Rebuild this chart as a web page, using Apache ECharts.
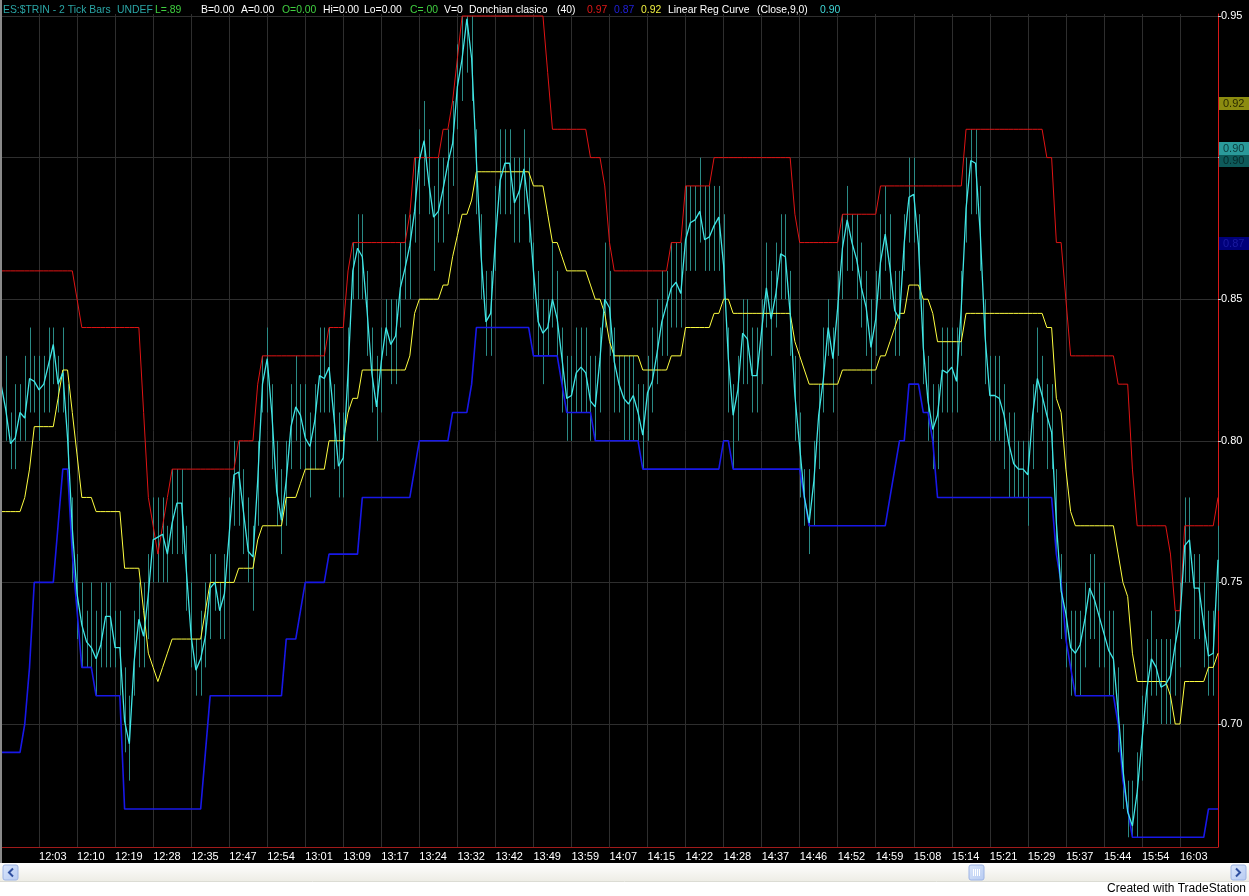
<!DOCTYPE html>
<html><head><meta charset="utf-8">
<script src="https://cdn.jsdelivr.net/npm/echarts@6/dist/echarts.min.js"></script>
<style>html,body{margin:0;padding:0;background:#fff;}#c{width:1249px;height:896px;}</style>
</head><body><div id="c"></div>
<script>
// ---- data ----
const timeLabels = ['12:03','12:10','12:19','12:28','12:35','12:47','12:54','13:01','13:09','13:17','13:24','13:32','13:42','13:49','13:59','14:07','14:15','14:22','14:28','14:37','14:46','14:52','14:59','15:08','15:14','15:21','15:29','15:37','15:44','15:54','16:03'];
const yTickValues = [0.70,0.75,0.80,0.85,0.90,0.95];

const donchianUpper = [
.86,.86,.86,.86,.86,.86,.86,.86,.86,.86,
.86,.86,.86,.86,.86,.86,.85,.84,.84,.84,
.84,.84,.84,.84,.84,.84,.84,.84,.84,.84,
.81,.78,.77,.76,.77,.78,.79,.79,.79,.79,
.79,.79,.79,.79,.79,.79,.79,.79,.79,.79,
.80,.80,.80,.80,.82,.83,.83,.83,.83,.83,
.83,.83,.83,.83,.83,.83,.83,.83,.83,.84,
.84,.84,.84,.86,.87,.87,.87,.87,.87,.87,
.87,.87,.87,.87,.87,.87,.88,.90,.90,.90,
.90,.90,.90,.91,.91,.92,.935,.95,.95,.95,
.95,.95,.95,.95,.95,.95,.95,.95,.95,.95,
.95,.95,.95,.95,.95,.93,.91,.91,.91,.91,
.91,.91,.91,.91,.90,.90,.90,.89,.87,.86,
.86,.86,.86,.86,.86,.86,.86,.86,.86,.86,
.86,.87,.87,.87,.89,.89,.89,.89,.89,.89,
.90,.90,.90,.90,.90,.90,.90,.90,.90,.90,
.90,.90,.90,.90,.90,.90,.90,.88,.87,.87,
.87,.87,.87,.87,.87,.87,.87,.88,.88,.88,
.88,.88,.88,.88,.88,.89,.89,.89,.89,.89,
.89,.89,.89,.89,.89,.89,.89,.89,.89,.89,
.89,.89,.89,.91,.91,.91,.91,.91,.91,.91,
.91,.91,.91,.91,.91,.91,.91,.91,.91,.91,
.90,.90,.87,.87,.85,.83,.83,.83,.83,.83,
.83,.83,.83,.83,.83,.82,.82,.82,.79,.77,
.77,.77,.77,.77,.77,.77,.76,.74,.74,.77,
.77,.77,.77,.77,.77,.77,.78];

const donchianLower = [
.69,.69,.69,.69,.69,.70,.72,.75,.75,.75,
.75,.75,.77,.79,.79,.76,.74,.72,.72,.72,
.71,.71,.71,.71,.71,.71,.67,.67,.67,.67,
.67,.67,.67,.67,.67,.67,.67,.67,.67,.67,
.67,.67,.67,.69,.71,.71,.71,.71,.71,.71,
.71,.71,.71,.71,.71,.71,.71,.71,.71,.71,
.73,.73,.73,.74,.75,.75,.75,.75,.75,.76,
.76,.76,.76,.76,.76,.76,.78,.78,.78,.78,
.78,.78,.78,.78,.78,.78,.78,.79,.80,.80,
.80,.80,.80,.80,.80,.81,.81,.81,.81,.82,
.84,.84,.84,.84,.84,.84,.84,.84,.84,.84,
.84,.84,.83,.83,.83,.83,.83,.83,.82,.81,
.81,.81,.81,.81,.81,.80,.80,.80,.80,.80,
.80,.80,.80,.80,.80,.79,.79,.79,.79,.79,
.79,.79,.79,.79,.79,.79,.79,.79,.79,.79,
.79,.79,.80,.80,.79,.79,.79,.79,.79,.79,
.79,.79,.79,.79,.79,.79,.79,.79,.79,.78,
.77,.77,.77,.77,.77,.77,.77,.77,.77,.77,
.77,.77,.77,.77,.77,.77,.77,.78,.79,.80,
.80,.82,.82,.82,.81,.81,.80,.78,.78,.78,
.78,.78,.78,.78,.78,.78,.78,.78,.78,.78,
.78,.78,.78,.78,.78,.78,.78,.78,.78,.78,
.78,.78,.76,.75,.73,.72,.71,.71,.71,.71,
.71,.71,.71,.71,.71,.70,.68,.67,.66,.66,
.66,.66,.66,.66,.66,.66,.66,.66,.66,.66,
.66,.66,.66,.66,.67,.67,.67];

const donchianMid = [
.775,.775,.775,.775,.775,.78,.79,.805,.805,.805,
.805,.805,.815,.825,.825,.81,.795,.78,.78,.78,
.775,.775,.775,.775,.775,.775,.755,.755,.755,.755,
.74,.725,.72,.715,.72,.725,.73,.73,.73,.73,
.73,.73,.73,.74,.75,.75,.75,.75,.75,.75,
.755,.755,.755,.755,.765,.77,.77,.77,.77,.77,
.78,.78,.78,.785,.79,.79,.79,.79,.79,.80,
.80,.80,.80,.81,.815,.815,.825,.825,.825,.825,
.825,.825,.825,.825,.825,.825,.83,.845,.85,.85,
.85,.85,.85,.855,.855,.865,.8725,.88,.88,.885,
.895,.895,.895,.895,.895,.895,.895,.895,.895,.895,
.895,.895,.89,.89,.89,.88,.87,.87,.865,.86,
.86,.86,.86,.86,.855,.85,.85,.845,.835,.83,
.83,.83,.83,.83,.83,.825,.825,.825,.825,.825,
.825,.83,.83,.83,.84,.84,.84,.84,.84,.84,
.845,.845,.85,.85,.845,.845,.845,.845,.845,.845,
.845,.845,.845,.845,.845,.845,.845,.835,.83,.825,
.82,.82,.82,.82,.82,.82,.82,.825,.825,.825,
.825,.825,.825,.825,.825,.83,.83,.835,.84,.845,
.845,.855,.855,.855,.85,.85,.845,.835,.835,.835,
.835,.835,.835,.845,.845,.845,.845,.845,.845,.845,
.845,.845,.845,.845,.845,.845,.845,.845,.845,.845,
.84,.84,.815,.81,.79,.775,.77,.77,.77,.77,
.77,.77,.77,.77,.77,.76,.75,.745,.725,.715,
.715,.715,.715,.715,.715,.715,.71,.70,.70,.715,
.715,.715,.715,.715,.72,.72,.725];

const linRegCurve = [
.820,.811,.799,.801,.810,.808,.822,.821,.818,.820,
.827,.834,.820,.824,.801,.769,.746,.735,.729,.727,
.723,.728,.738,.738,.727,.727,.701,.693,.722,.737,
.731,.746,.765,.766,.767,.760,.771,.778,.778,.754,
.731,.719,.723,.731,.748,.750,.740,.746,.767,.788,
.789,.775,.761,.759,.786,.820,.829,.809,.782,.772,
.786,.805,.812,.809,.801,.798,.807,.823,.822,.826,
.809,.791,.794,.824,.860,.868,.865,.846,.824,.812,
.828,.840,.834,.837,.854,.861,.869,.881,.899,.906,
.891,.879,.881,.889,.898,.905,.925,.935,.949,.935,
.899,.865,.842,.845,.871,.892,.898,.898,.884,.888,
.896,.882,.860,.842,.838,.840,.850,.843,.829,.815,
.816,.824,.826,.824,.814,.812,.829,.850,.847,.828,
.820,.815,.813,.816,.810,.802,.817,.821,.831,.842,
.848,.854,.856,.852,.871,.877,.878,.881,.871,.872,
.876,.879,.862,.829,.809,.818,.838,.836,.823,.823,
.839,.854,.843,.852,.866,.865,.845,.816,.798,.780,
.771,.786,.809,.822,.840,.829,.847,.868,.878,.870,
.864,.854,.847,.833,.843,.863,.873,.861,.846,.843,
.870,.886,.887,.869,.833,.814,.804,.809,.825,.824,
.826,.821,.847,.882,.899,.898,.873,.837,.816,.816,
.815,.809,.799,.792,.790,.790,.788,.809,.822,.816,
.809,.803,.771,.747,.739,.727,.725,.728,.737,.748,
.744,.738,.732,.726,.723,.704,.684,.669,.664,.676,
.694,.712,.723,.720,.713,.714,.717,.728,.737,.763,
.765,.748,.748,.735,.724,.725,.758];

const barLow = [
.81,.80,.79,.79,.80,.80,.81,.81,.80,.81,
.81,.82,.81,.81,.79,.75,.73,.72,.72,.72,
.71,.72,.72,.72,.72,.71,.69,.68,.71,.72,
.72,.73,.75,.75,.75,.75,.76,.76,.76,.74,
.72,.71,.71,.72,.73,.74,.73,.73,.75,.77,
.77,.76,.75,.74,.77,.81,.81,.79,.77,.76,
.77,.79,.80,.79,.79,.78,.79,.81,.81,.81,
.79,.78,.78,.81,.85,.85,.85,.83,.81,.80,
.81,.83,.82,.82,.84,.85,.85,.87,.88,.89,
.88,.86,.87,.87,.88,.89,.91,.92,.93,.92,
.88,.85,.83,.83,.86,.88,.88,.88,.87,.87,
.88,.87,.85,.83,.82,.83,.84,.83,.81,.80,
.80,.81,.81,.81,.80,.80,.81,.84,.83,.81,
.81,.80,.80,.80,.80,.79,.80,.81,.82,.83,
.83,.84,.84,.84,.86,.86,.86,.87,.86,.86,
.86,.86,.85,.81,.79,.80,.82,.82,.81,.81,
.82,.84,.83,.84,.85,.85,.83,.80,.78,.77,
.76,.77,.79,.81,.83,.81,.83,.85,.86,.86,
.85,.84,.83,.82,.83,.85,.86,.85,.83,.83,
.86,.87,.87,.85,.82,.80,.79,.79,.81,.81,
.81,.81,.83,.87,.88,.88,.86,.82,.80,.80,
.80,.79,.78,.78,.78,.78,.77,.79,.81,.80,
.79,.79,.76,.73,.72,.71,.71,.71,.72,.73,
.73,.72,.72,.71,.71,.69,.67,.66,.66,.66,
.68,.70,.71,.71,.70,.70,.70,.71,.72,.75,
.75,.73,.73,.72,.71,.71,.74];

const barHigh = [
.83,.83,.81,.82,.82,.83,.84,.83,.83,.83,
.84,.84,.83,.84,.82,.78,.76,.75,.74,.75,
.74,.75,.75,.75,.74,.74,.72,.71,.74,.75,
.75,.76,.78,.78,.78,.77,.79,.79,.79,.77,
.75,.73,.74,.75,.76,.76,.75,.76,.78,.80,
.80,.79,.78,.77,.80,.83,.84,.82,.80,.79,
.80,.82,.83,.82,.82,.81,.82,.84,.84,.84,
.82,.81,.81,.84,.87,.88,.88,.86,.84,.83,
.84,.85,.85,.85,.87,.88,.88,.90,.91,.92,
.91,.89,.90,.90,.91,.92,.94,.95,.95,.95,
.91,.88,.86,.86,.89,.91,.91,.91,.90,.90,
.91,.90,.87,.86,.85,.85,.87,.86,.84,.83,
.83,.84,.84,.84,.83,.83,.84,.87,.86,.84,
.83,.83,.83,.83,.82,.82,.83,.84,.85,.86,
.86,.87,.87,.87,.89,.89,.89,.90,.89,.89,
.89,.89,.88,.84,.82,.83,.85,.85,.84,.84,
.85,.87,.86,.87,.88,.88,.86,.83,.81,.79,
.79,.80,.82,.84,.85,.84,.86,.88,.89,.88,
.88,.87,.86,.85,.86,.88,.89,.88,.86,.86,
.88,.90,.90,.88,.85,.83,.82,.82,.84,.84,
.84,.84,.86,.90,.91,.91,.89,.85,.83,.83,
.83,.82,.81,.81,.80,.80,.80,.82,.84,.83,
.82,.82,.79,.76,.75,.74,.74,.74,.75,.76,
.76,.75,.75,.74,.74,.72,.70,.68,.68,.69,
.71,.73,.74,.73,.73,.73,.73,.74,.75,.78,
.78,.76,.76,.75,.74,.74,.77];

// last-value markers on the price scale: Donchian mid, price, Linear Reg, Donchian low
const markerValues = [0.9193, 0.8990, 0.9033, 0.8700];
const markerLabels = ['0.92', '0.90', '0.90', '0.87'];

// ---- build ----
const N = donchianUpper.length;
const TICK_START = 8, TICK_STEP = 8;
const isTick = i => i >= TICK_START && (i - TICK_START) % TICK_STEP === 0 && (i - TICK_START) / TICK_STEP < timeLabels.length;
const categories = [];
for (let i = 0; i < N; i++) categories.push(isTick(i) ? timeLabels[(i - TICK_START) / TICK_STEP] : 'bar' + i);

const FONT = '"Liberation Sans", Arial, sans-serif';
const chart = echarts.init(document.getElementById('c'), null, {renderer: 'canvas'});

const headerDefs = [
 ['ES:$TRIN - 2 Tick Bars', 3, '#2aa6a6'], ['UNDEF', 117, '#2aa6a6'], ['L=.89', 155, '#40d040'],
 ['B=0.00', 201, '#ffffff'], ['A=0.00', 241, '#ffffff'], ['O=0.00', 282, '#40d040'],
 ['Hi=0.00', 323, '#ffffff'], ['Lo=0.00', 364, '#ffffff'], ['C=.00', 410, '#40d040'],
 ['V=0', 444, '#ffffff'], ['Donchian clasico', 469, '#ffffff'], ['(40)', 557, '#ffffff'],
 ['0.97', 587, '#e01818'], ['0.87', 614, '#2020d8'], ['0.92', 641, '#f0f040'],
 ['Linear Reg Curve', 668, '#ffffff'], ['(Close,9,0)', 757, '#ffffff'], ['0.90', 820, '#40d8d8']
];
const graphics = headerDefs.map(h => ({
  type: 'text', x: h[1], y: 10, z: 100,
  style: {text: h[0], fill: h[2], font: '10.4px ' + FONT, textVerticalAlign: 'middle'}
}));
// left border
graphics.push({type:'rect', shape:{x:0,y:0,width:2,height:863}, style:{fill:'#8a8a8a'}, z:100});
// scrollbar + footer
graphics.push({type:'rect', shape:{x:0,y:863,width:1249,height:33}, style:{fill:'#ffffff'}, z:100});
graphics.push({type:'rect', shape:{x:0,y:863,width:1249,height:18}, z:101,
  style:{fill:new echarts.graphic.LinearGradient(0,0,0,1,[{offset:0,color:'#fefefe'},{offset:1,color:'#eeede6'}])}});
graphics.push({type:'line', shape:{x1:0,y1:881.5,x2:1249,y2:881.5}, style:{stroke:'#dcdcd4',lineWidth:1}, z:101});
const btn = (x) => ({type:'rect', shape:{x:x,y:865,width:15,height:15,r:2}, z:102,
  style:{fill:new echarts.graphic.LinearGradient(0,0,1,1,[{offset:0,color:'#dbe6fb'},{offset:1,color:'#b7cbf2'}]), stroke:'#9eb4e4', lineWidth:1}});
graphics.push(btn(3), btn(969), btn(1231));
graphics.push({type:'polyline', shape:{points:[[13,868.5],[9,872.5],[13,876.5]]}, style:{stroke:'#3050a0',lineWidth:2,fill:null}, z:103});
graphics.push({type:'polyline', shape:{points:[[1236,868.5],[1240,872.5],[1236,876.5]]}, style:{stroke:'#3050a0',lineWidth:2,fill:null}, z:103});
[973.5,975.5,977.5,979.5].forEach(x => graphics.push({type:'line', shape:{x1:x,y1:869,x2:x,y2:876}, style:{stroke:'#ffffff',lineWidth:1}, z:103}));
graphics.push({type:'text', x:1246, y:889, z:103, style:{text:'Created with TradeStation', fill:'#000', font:'12px ' + FONT, textAlign:'right', textVerticalAlign:'middle'}});

const lineSeries = (name, data, color, width, z) => ({
  name, type: 'line', data, showSymbol: false, symbol: 'none', animation: false, silent: true, z,
  lineStyle: {color, width}, itemStyle: {color}
});

const markerFg = ['#2a2a00', '#062a2a', '#0b3c3c', '#1a1aa0'];
const markerBg = ['#8c8c10', '#0e5a5a', '#2a9a9a', '#00007a'];

const option = {
  backgroundColor: '#000',
  animation: false,
  graphic: graphics,
  grid: {left: 1, right: 31, top: 14, bottom: 49, containLabel: false},
  xAxis: {
    type: 'category', data: categories, boundaryGap: false,
    axisLine: {show: true, lineStyle: {color: '#a01a1a', width: 1}},
    axisTick: {show: false},
    axisLabel: {show: true, interval: (idx) => isTick(idx), color: '#fff', fontSize: 11, fontFamily: FONT, align: 'left', margin: 4},
    splitLine: {show: true, interval: (idx) => isTick(idx), lineStyle: {color: '#2e2e2e', width: 1}}
  },
  yAxis: {
    type: 'value', position: 'right', min: 0.65657, max: 0.95071, scale: true,
    axisLine: {show: true, lineStyle: {color: '#d81818', width: 1}},
    axisTick: {show: true, length: 3, customValues: yTickValues, lineStyle: {color: '#c8c8c8'}},
    axisLabel: {show: true, customValues: yTickValues, color: '#fff', fontSize: 11, fontFamily: FONT, margin: 3, formatter: v => v.toFixed(2)},
    splitLine: {show: true, lineStyle: {color: '#2e2e2e', width: 1}}
  },
  series: [
    {
      name: 'bars', type: 'custom', silent: true, animation: false, z: 2,
      data: barLow.map((l, i) => [i, l, barHigh[i]]),
      encode: {x: 0, y: [1, 2]},
      renderItem: (params, api) => {
        const i = api.value(0);
        const lo = api.coord([i, api.value(1)]);
        const hi = api.coord([i, api.value(2)]);
        const x = Math.round(lo[0]) + 0.5;
        return {type: 'line', shape: {x1: x, y1: lo[1], x2: x, y2: hi[1]}, style: {stroke: '#2a8a85', lineWidth: 1}};
      }
    },
    lineSeries('Donchian upper', donchianUpper, '#e01414', 1, 3),
    lineSeries('Donchian lower', donchianLower, '#1818e8', 1.6, 3),
    lineSeries('Donchian mid', donchianMid, '#ffff40', 1, 4),
    lineSeries('Linear Reg Curve', linRegCurve, '#40e6e6', 1.3, 5),
    {
      name: 'last values', type: 'custom', silent: true, animation: false, clip: false, z: 50,
      data: markerValues.map(v => [0, v]),
      encode: {x: 0, y: 1},
      renderItem: (params, api) => {
        const k = params.dataIndex;
        const y = Math.round(api.coord([0, api.value(1)])[1]);
        const cs = params.coordSys;
        const x = cs.x + cs.width + 1;
        return {type: 'group', children: [
          {type: 'rect', shape: {x: x, y: y - 6, width: 30, height: 13}, style: {fill: markerBg[k]}},
          {type: 'text', x: x + 4, y: y + 0.5, style: {text: markerLabels[k], fill: markerFg[k], font: '11px ' + FONT, textVerticalAlign: 'middle'}}
        ]};
      }
    }
  ]
};
chart.setOption(option);
</script></body></html>
